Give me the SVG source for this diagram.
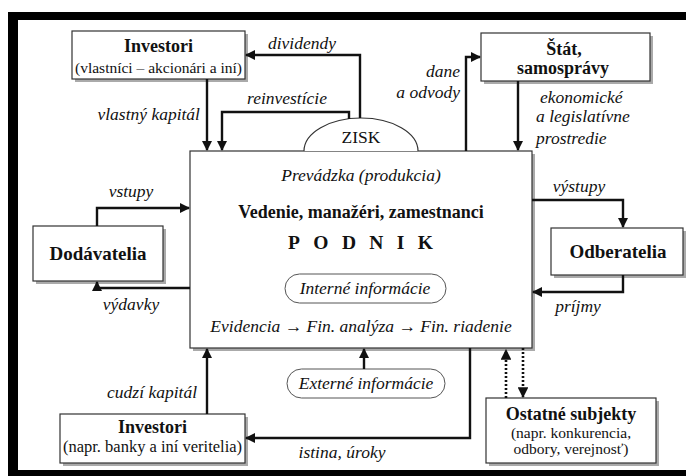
<svg xmlns="http://www.w3.org/2000/svg" width="686" height="476" viewBox="0 0 686 476">
<style>
.box{fill:#fff;stroke:#333;stroke-width:1.2}
.sh{fill:#aaa}
text{font-family:'Liberation Serif','DejaVu Serif',serif;fill:#111}
.b{font-weight:bold;font-size:18px}
.r{font-size:15.5px}
.i{font-style:italic;font-size:17.5px}
.c{text-anchor:middle}
.e{text-anchor:end}
.ln{fill:none;stroke:#111;stroke-width:2.4}
.dot{fill:none;stroke:#111;stroke-width:2.6;stroke-dasharray:2 2}
.pill{fill:#fff;stroke:#555;stroke-width:1}
</style>
<defs>
<marker id="ah" viewBox="0 0 10 10" refX="9" refY="5" markerWidth="4.2" markerHeight="4.2" orient="auto" markerUnits="strokeWidth">
<path d="M0,0 L10,5 L0,10 z" fill="#111"/>
</marker>
</defs>
<rect x="8" y="12" width="678" height="464" fill="#000"/>
<rect x="18" y="20" width="668" height="450" fill="#fff"/>

<g id="podnik">
<rect class="sh" x="193" y="154" width="342" height="197"/>
<rect class="box" x="190" y="151" width="342" height="197"/>
<text class="i c" x="361" y="181">Prevádzka (produkcia)</text>
<text class="c" x="361" y="218" style="font-weight:bold;font-size:18px">Vedenie, manažéri, zamestnanci</text>
<text x="288" y="249" textLength="145" lengthAdjust="spacing" style="font-weight:bold;font-size:19.5px">PODNIK</text>
<rect class="pill" x="285" y="274" width="161" height="29" rx="14.5"/>
<text class="i c" x="365" y="294">Interné informácie</text>
<text class="i c" x="361" y="332">Evidencia → Fin. analýza → Fin. riadenie</text>
</g>

<g id="zisk">
<path d="M304,151 A57,33 0 0 1 418,151" fill="#fff" stroke="#333" stroke-width="1.2"/>
<text class="c" x="361" y="143" style="font-size:17.5px">ZISK</text>
</g>

<g id="investori-vlastnici">
<rect class="sh" x="75" y="34" width="173" height="48"/>
<rect class="box" x="72" y="31" width="173" height="48"/>
<text class="b c" x="158.5" y="52">Investori</text>
<text class="r c" x="158.5" y="73">(vlastníci – akcionári a iní)</text>
</g>

<g id="stat">
<rect class="sh" x="484" y="36" width="169" height="48"/>
<rect class="box" x="481" y="33" width="169" height="48"/>
<text class="b c" x="564" y="55">Štát,</text>
<text class="b c" x="563" y="74">samosprávy</text>
</g>

<g id="dodavatelia">
<rect class="sh" x="36" y="229" width="130" height="55"/>
<rect class="box" x="33" y="226" width="130" height="55"/>
<text class="b c" x="98" y="260" style="font-size:19px">Dodávatelia</text>
</g>

<g id="odberatelia">
<rect class="sh" x="554" y="231" width="132" height="47"/>
<rect class="box" x="551" y="228" width="132" height="47"/>
<text class="b c" x="618" y="258" style="font-size:19px">Odberatelia</text>
</g>

<g id="investori-veritelia">
<rect class="sh" x="63" y="417" width="185" height="49"/>
<rect class="box" x="60" y="414" width="185" height="49"/>
<text class="b c" x="152.5" y="433">Investori</text>
<text class="r c" x="152.5" y="452" style="font-size:16.5px">(napr. banky a iní veritelia)</text>
</g>

<g id="externe">
<rect class="pill" x="287" y="369" width="158" height="29" rx="14.5"/>
<text class="i c" x="366" y="389">Externé informácie</text>
</g>

<g id="ostatne">
<rect class="sh" x="489" y="401" width="170" height="65"/>
<rect class="box" x="486" y="398" width="170" height="65"/>
<text class="b c" x="571" y="420">Ostatné subjekty</text>
<text class="r c" x="571" y="438">(napr. konkurencia,</text>
<text class="r c" x="571" y="454">odbory, verejnosť)</text>
</g>

<g id="connectors">
<path class="ln" d="M360,118 V55 H246" marker-end="url(#ah)"/>
<path class="ln" d="M349,119 V112 H222 V150" marker-end="url(#ah)"/>
<path class="ln" d="M207,79 V150" marker-end="url(#ah)"/>
<path class="ln" d="M466,151 V57 H480" marker-end="url(#ah)"/>
<path class="ln" d="M518,81 V150" marker-end="url(#ah)"/>
<path class="ln" d="M97,226 V208 H189" marker-end="url(#ah)"/>
<path class="ln" d="M190,288 H97 V282" marker-end="url(#ah)"/>
<path class="ln" d="M532,200 H623 V227" marker-end="url(#ah)"/>
<path class="ln" d="M623,275 V292 H533" marker-end="url(#ah)"/>
<path class="ln" d="M207,414 V349" marker-end="url(#ah)"/>
<path class="ln" d="M470,348 V438 H246" marker-end="url(#ah)"/>
<path class="ln" d="M364,369 V349" marker-end="url(#ah)"/>
<path class="dot" d="M506,398 V350" marker-end="url(#ah)"/>
<path class="dot" d="M523,348 V397" marker-end="url(#ah)"/>
<text class="i c" x="302" y="49">dividendy</text>
<text class="i c" x="287" y="104">reinvestície</text>
<text class="i e" x="200" y="120">vlastný kapitál</text>
<text class="i e" x="460" y="77">dane</text>
<text class="i e" x="460" y="98">a odvody</text>
<text class="i" x="540" y="103">ekonomické</text>
<text class="i" x="536" y="122">a legislatívne</text>
<text class="i" x="536" y="144">prostredie</text>
<text class="i c" x="131" y="197">vstupy</text>
<text class="i c" x="131" y="310">výdavky</text>
<text class="i c" x="579" y="192">výstupy</text>
<text class="i c" x="578" y="312">príjmy</text>
<text class="i e" x="197" y="398">cudzí kapitál</text>
<text class="i c" x="342" y="458">istina, úroky</text>
</g>
</svg>
